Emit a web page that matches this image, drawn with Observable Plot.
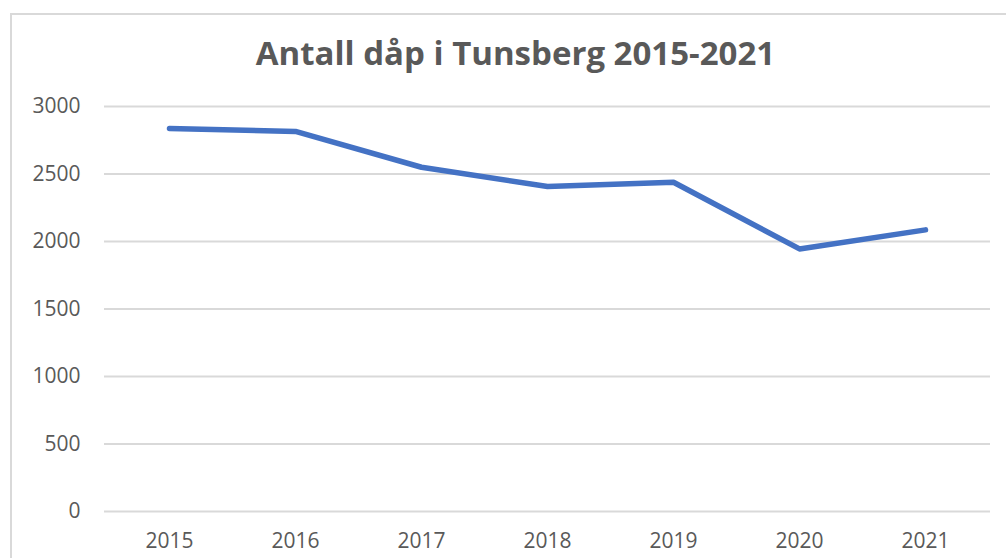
<!DOCTYPE html>
<html>
<head>
<meta charset="utf-8">
<script src="https://cdn.jsdelivr.net/npm/d3@7"></script>
<script src="https://cdn.jsdelivr.net/npm/@observablehq/plot@0.6"></script>
<style>
  html, body { margin: 0; padding: 0; background: #fff; }
  #wrap { position: relative; width: 1006px; height: 558px; overflow: hidden; background: #fff; }
  #frame { position: absolute; left: 10px; top: 13px; width: 1020px; height: 580px; border: 2px solid #d9d9d9; box-sizing: border-box; }
  #title { position: relative; height: 80px; width: 1031px; font-family: "Open Sans", sans-serif; font-weight: 700; font-size: 33px; color: #595959; text-align: center; }
  #title span { position: absolute; left: 0; right: 0; top: 36px; line-height: 1; }
  #chart { position: relative; }
</style>
</head>
<body>
<div id="wrap">
  <div id="frame"></div>
  <div id="title"><span>Antall dåp i Tunsberg 2015-2021</span></div>
  <div id="chart"></div>
</div>
<script>
const years = ["2015", "2016", "2017", "2018", "2019", "2020", "2021"];
const baptisms = [2837, 2815, 2550, 2407, 2439, 1945, 2086];
const yTicks = [0, 500, 1000, 1500, 2000, 2500, 3000];

const data = years.map((y, i) => ({year: y, value: baptisms[i]}));

const chart = Plot.plot({
  width: 1006,
  height: 478,
  marginTop: 26,
  marginBottom: 47,
  marginLeft: 104,
  marginRight: 16,
  style: {fontFamily: "'Open Sans', sans-serif", fontSize: "21px", color: "#595959", background: "transparent", overflow: "visible"},
  x: {type: "point", domain: years, padding: 0.5, label: null},
  y: {domain: [0, 3000], label: null},
  marks: [
    Plot.ruleY(yTicks, {stroke: "#d9d9d9", strokeWidth: 2}),
    Plot.axisY({ticks: yTicks, tickSize: 0, tickPadding: 24, tickFormat: d => String(d), label: null, fontSize: 21}),
    Plot.axisX({tickSize: 0, tickPadding: 22, label: null, fontSize: 21}),
    Plot.line(data, {x: "year", y: "value", stroke: "#4472C4", strokeWidth: 5.5, strokeLinecap: "round", strokeLinejoin: "round"})
  ]
});
document.getElementById("chart").appendChild(chart);
</script>
</body>
</html>
